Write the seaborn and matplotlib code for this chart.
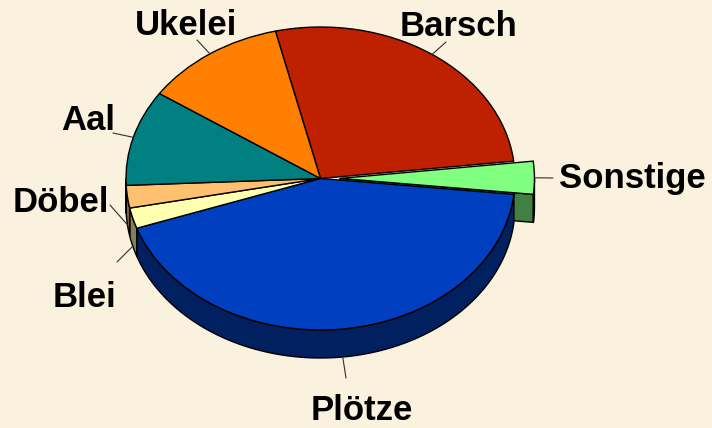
import numpy as np
import matplotlib
matplotlib.use("Agg")
import matplotlib.pyplot as plt
import seaborn as sns
from matplotlib.patches import Polygon

# ---- data ----
categories = ["Barsch", "Sonstige", "Plötze", "Blei", "Döbel", "Aal", "Ukelei"]
values = [26.9, 3.5, 43.0, 2.2, 2.4, 10.2, 11.8]
explode = [0, 0.1, 0, 0, 0, 0, 0]

top_colors = ["#BE2000", "#80FF80", "#0040C0", "#FFFFB0", "#FFC070", "#008080", "#FF8000"]
side_colors = ["#5F1000", "#408040", "#002060", "#80805A", "#80603A", "#004040", "#804000"]

# label text anchors (pixel coords from top-left: center x, baseline y) and leader line ends
label_pos = {"Barsch": (458, 36), "Sonstige": (632, 188), "Plötze": (362, 420),
             "Blei": (84, 307), "Döbel": (61, 212), "Aal": (88, 130), "Ukelei": (186, 35)}
leader_end = {"Barsch": (446, 42), "Sonstige": (553, 178), "Plötze": (346, 378),
              "Blei": (117, 262), "Döbel": (110, 205), "Aal": (113, 133), "Ukelei": (197, 40)}

sns.set_theme(style="white")
plt.rcParams['font.family'] = ['Liberation Sans', 'DejaVu Sans']

W, H = 712, 428
bg = "#FAF1DE"
fig = plt.figure(figsize=(W / 100, H / 100), dpi=100)
fig.patch.set_facecolor(bg)
ax = fig.add_axes([0, 0, 1, 1])
ax.set_facecolor(bg)

cx_px, cy_px = 320.5, 178.5
rx_px, ry_px = 194.5, 151.5
depth = 28 / ry_px
start = 103.4


def px(x, y):
    return ((x - cx_px) / rx_px, (cy_px - y) / ry_px)


vals = np.array(values, dtype=float)
fr = vals / vals.sum()
cum = np.concatenate([[0], np.cumsum(fr)])
a_start = start - 360 * cum[:-1]
a_end = start - 360 * cum[1:]
mids = (a_start + a_end) / 2

# ---- side walls ----
order = sorted(range(len(values)), key=lambda i: -explode[i])
for i in order:
    off = explode[i]
    ocx = off * np.cos(np.radians(mids[i]))
    ocy = off * np.sin(np.radians(mids[i]))
    # radial cut faces (only for exploded wedges)
    if off > 0:
        for ang, vis in ((a_end[i], np.cos(np.radians(a_end[i])) > 0),
                         (a_start[i], np.cos(np.radians(a_start[i])) < 0)):
            if vis:
                ex = ocx + np.cos(np.radians(ang))
                ey = ocy + np.sin(np.radians(ang))
                poly = [(ocx, ocy), (ex, ey), (ex, ey - depth), (ocx, ocy - depth)]
                ax.add_patch(Polygon(poly, closed=True, facecolor=side_colors[i],
                                     edgecolor="black", lw=1, zorder=1))
    # outer arc wall (front half only)
    for k in range(-2, 2):
        lo = max(a_end[i], 180 + 360 * k)
        hi = min(a_start[i], 360 + 360 * k)
        if lo < hi:
            t = np.radians(np.linspace(lo, hi, 100))
            xs = ocx + np.cos(t)
            ys = ocy + np.sin(t)
            poly = list(zip(xs, ys)) + list(zip(xs[::-1], ys[::-1] - depth))
            ax.add_patch(Polygon(poly, closed=True, facecolor=side_colors[i],
                                 edgecolor="black", lw=1, zorder=1 if off > 0 else 2))

# ---- top faces ----
wedges, _ = ax.pie(values, explode=explode, colors=top_colors, startangle=start,
                   counterclock=False, radius=1, center=(0, 0),
                   wedgeprops=dict(edgecolor="black", linewidth=1))
for w in wedges:
    w.set_zorder(3)

# ---- labels with leader lines ----
for i, cat in enumerate(categories):
    off = explode[i]
    m = np.radians(mids[i])
    ax_ = (1 + off) * np.cos(m)
    ay_ = (1 + off) * np.sin(m)
    if np.sin(m) < -0.05:
        ay_ -= depth
    ex, ey = px(*leader_end[cat])
    ax.plot([ax_, ex], [ay_, ey], color="#303030", lw=0.8, zorder=4)
    tx, ty = px(*label_pos[cat])
    ax.text(tx, ty, cat, ha="center", va="baseline", fontsize=25,
            fontweight="bold", color="black", zorder=5)

ax.set_aspect("auto")
ax.set_xlim(-cx_px / rx_px, (W - cx_px) / rx_px)
ax.set_ylim(-(H - cy_px) / ry_px, cy_px / ry_px)
ax.axis("off")

fig.savefig("out.png", dpi=100, facecolor=bg)
